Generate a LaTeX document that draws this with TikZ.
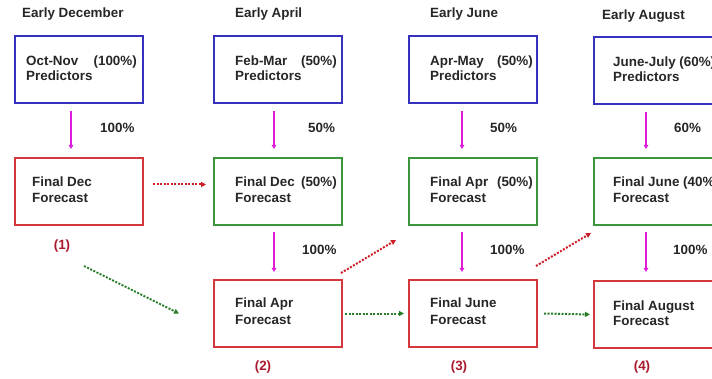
\documentclass[tikz,border=0pt]{standalone}
\usepackage{fontspec}
\setmainfont{Liberation Sans}
\usetikzlibrary{arrows.meta,calc}
\definecolor{bbox}{RGB}{55,50,190}
\definecolor{rbox}{RGB}{212,55,60}
\definecolor{gbox}{RGB}{60,150,60}
\definecolor{mag}{RGB}{220,30,220}
\definecolor{dred}{RGB}{205,30,40}
\definecolor{dgreen}{RGB}{40,125,40}
\definecolor{numred}{RGB}{170,25,45}
\begin{document}
\begin{tikzpicture}[x=1pt,y=-1pt,
  box/.style={draw=#1, line width=2pt, minimum width=128pt, minimum height=67pt, anchor=north west, inner sep=0pt},
  txt/.style={anchor=base west, inner sep=0pt, font=\fontsize{13.4}{15}\selectfont\bfseries, text=black!85},
  txtr/.style={txt, anchor=base east},
  pct/.style={anchor=west, inner sep=0pt, font=\fontsize{13.4}{15}\selectfont\bfseries, text=black!85},
  num/.style={inner sep=0pt, font=\fontsize{13.4}{15}\selectfont\bfseries, text=numred},
  marr/.style={draw=mag, line width=1.6pt, -{Triangle[length=4pt,width=4.5pt]}},
  rdot/.style={draw=dred, line width=2pt, dash pattern=on 2pt off 1.5pt, -{Triangle[length=5pt,width=5pt]}},
  gdot/.style={draw=dgreen, line width=2pt, dash pattern=on 2pt off 1.5pt, -{Triangle[length=5pt,width=5pt]}}]
\useasboundingbox (0,0) rectangle (712,379);

% headers
\node[txt] (h1) at (22,18) {Early December};
\node[txt] (h2) at (235,18) {Early April};
\node[txt] (h3) at (430,18) {Early June};
\node[txt] (h4) at (602,20) {Early August};

% row 1 boxes
\node[box=bbox] (b1) at (14,35) {};
\node[box=bbox] (b2) at (213,35) {};
\node[box=bbox] (b3) at (408,35) {};
\node[box=bbox] (b4) at (593,36) {};
% row 2 boxes
\node[box=rbox] (r1) at (14,157) {};
\node[box=gbox] (g2) at (213,157) {};
\node[box=gbox] (g3) at (408,157) {};
\node[box=gbox] (g4) at (593,157) {};
% row 3 boxes
\node[box=rbox] (ra) at (213,279) {};
\node[box=rbox] (rb) at (408,279) {};
\node[box=rbox] (rc) at (593,280) {};

% texts row 1
\node[txt] (t1a) at (26,66) {Oct-Nov};
\node[txtr] (t1b) at (137,66) {(100\%)};
\node[txt] (t1c) at (26,81) {Predictors};
\node[txt] (t2a) at (235,66) {Feb-Mar};
\node[txtr] (t2b) at (337,66) {(50\%)};
\node[txt] (t2c) at (235,81) {Predictors};
\node[txt] (t3a) at (430,66) {Apr-May};
\node[txtr] (t3b) at (533,66) {(50\%)};
\node[txt] (t3c) at (430,81) {Predictors};
\node[txt] (t4a) at (613,67) {June-July (60\%)};
\node[txt] (t4c) at (613,82) {Predictors};
% texts row 2
\node[txt] (u1a) at (32,187) {Final Dec};
\node[txt] (u1c) at (32,203) {Forecast};
\node[txt] (u2a) at (235,187) {Final Dec};
\node[txtr] (u2b) at (337,187) {(50\%)};
\node[txt] (u2c) at (235,203) {Forecast};
\node[txt] (u3a) at (430,187) {Final Apr};
\node[txtr] (u3b) at (533,187) {(50\%)};
\node[txt] (u3c) at (430,203) {Forecast};
\node[txt] (u4a) at (613,187) {Final June (40\%)};
\node[txt] (u4c) at (613,203) {Forecast};
% texts row 3
\node[txt] (v2a) at (235,308) {Final Apr};
\node[txt] (v2c) at (235,324) {Forecast};
\node[txt] (v3a) at (430,308) {Final June};
\node[txt] (v3c) at (430,324) {Forecast};
\node[txt] (v4a) at (613,310) {Final August};
\node[txt] (v4c) at (613,326) {Forecast};

% magenta arrows
\draw[marr, shorten <=7pt, shorten >=8pt] ([xshift=-8pt]b1.south) -- ([xshift=-8pt]r1.north);
\draw[marr, shorten <=7pt, shorten >=8pt] ([xshift=-4pt]b2.south) -- ([xshift=-4pt]g2.north);
\draw[marr, shorten <=7pt, shorten >=8pt] ([xshift=-11pt]b3.south) -- ([xshift=-11pt]g3.north);
\draw[marr, shorten <=7pt, shorten >=8pt] ([xshift=-12pt]b4.south) -- ([xshift=-12pt]g4.north);
\draw[marr, shorten <=6pt, shorten >=7pt] ([xshift=-4pt]g2.south) -- ([xshift=-4pt]ra.north);
\draw[marr, shorten <=6pt, shorten >=7pt] ([xshift=-11pt]g3.south) -- ([xshift=-11pt]rb.north);
\draw[marr, shorten <=6pt, shorten >=8pt] ([xshift=-12pt]g4.south) -- ([xshift=-12pt]rc.north);

% percent labels
\node[pct] (p1) at (100,128) {100\%};
\node[pct] (p2) at (308,128) {50\%};
\node[pct] (p3) at (490,128) {50\%};
\node[pct] (p4) at (674,128) {60\%};
\node[pct] (p5) at (302,250) {100\%};
\node[pct] (p6) at (490,250) {100\%};
\node[pct] (p7) at (673,250) {100\%};

% dotted arrows
\draw[rdot] ([xshift=9pt,yshift=7pt]r1.east) -- ([xshift=-7pt,yshift=7pt]g2.west);
\coordinate (d1s) at ($(ra.north east)+(-2,-6)$);
\coordinate (d1e) at ($(g3.south west)+(-12,14)$);
\draw[rdot] (d1s) -- (d1e);
\coordinate (d2s) at ($(rb.north east)+(-2,-13)$);
\coordinate (d2e) at ($(g4.south west)+(-2,7)$);
\draw[rdot] (d2s) -- (d2e);
\coordinate (d3s) at ($(r1.south)+(5,40)$);
\draw[gdot] (d3s) -- ([xshift=-34pt]ra.west);
\draw[gdot] ([xshift=2pt]ra.east) -- ([xshift=-4pt]rb.west);
\draw[gdot] ([xshift=6pt]rb.east) -- ([xshift=-3pt]rc.west);

% numbers
\node[num] (n1) at (62,246) {(1)};
\node[num] (n2) at (263,367) {(2)};
\node[num] (n3) at (459,367) {(3)};
\node[num] (n4) at (642,367) {(4)};
\end{tikzpicture}
\end{document}
